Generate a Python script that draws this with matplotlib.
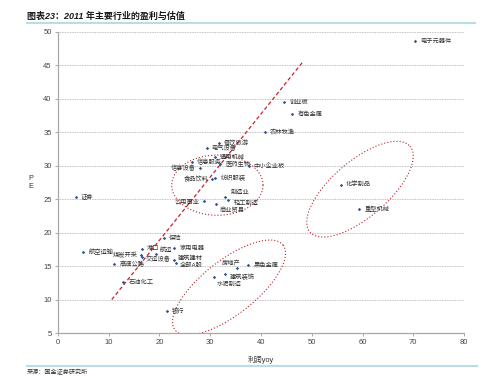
import numpy as np
import matplotlib.pyplot as plt

plt.rcParams['font.family'] = ['Liberation Sans', 'Noto Sans CJK SC', 'DejaVu Sans']

# 行业, 利润yoy, PE
industries = ['电子元器件', '创业板', '有色金属', '农林牧渔', '餐饮旅游', '电气设备',
              '通用机械', '医药生物', '中小企业板', '信息服务', '信息设备', '食品饮料',
              '纺织服装', '制造业', '轻工制造', '公用事业', '商业贸易', '证券',
              '保险', '航空运输', '港口', '家用电器', '煤炭开采', '交运设备', '航运',
              '建筑建材', '全部A股', '高速公路', '石油化工', '银行', '房地产',
              '黑色金属', '建筑装饰', '水泥制造', '化学制品', '重型机械']
profit_yoy = [70.3, 44.6, 46.2, 40.7, 31.7, 29.3,
              30.9, 31.9, 37.6, 26.4, 28.0, 30.4,
              31.0, 33.0, 33.4, 28.8, 31.1, 3.5,
              20.9, 5.0, 16.6, 22.9, 16.3, 16.6, 19.3,
              22.9, 23.2, 11.1, 12.9, 21.4, 35.3,
              37.5, 32.9, 30.8, 55.7, 59.4]
pe = [48.6, 39.5, 37.8, 35.0, 33.4, 32.6,
      31.3, 30.3, 30.0, 30.5, 29.7, 28.0,
      28.1, 25.3, 24.9, 24.7, 24.3, 25.3,
      19.2, 17.1, 17.6, 17.7, 16.7, 16.4, 16.8,
      15.9, 15.5, 15.3, 12.6, 8.3, 14.7,
      15.1, 13.8, 13.4, 27.2, 23.5]

# label placement (pixel offset, alignment); default is right of the marker
label_pos = {
    '信息设备': (-4, 0, 'right'), '食品饮料': (-4, 0, 'right'),
    '公用事业': (-4, 0, 'right'), '煤炭开采': (-3, 0, 'right'),
    '房地产': (3, 5, 'right'), '制造业': (5, 5, 'left'),
    '轻工制造': (6, -3, 'left'), '商业贸易': (4, -6, 'left'),
    '水泥制造': (2, -7, 'left'), '建筑装饰': (5, -3, 'left'),
    '全部A股': (4, -2, 'left'), '建筑建材': (4, 2, 'left'),
    '航运': (4, 4, 'left'), '交运设备': (4, -2, 'left'),
}

fig = plt.figure(figsize=(4.99, 3.84), dpi=100)
ax = fig.add_axes([0.1162, 0.1328, 0.8137, 0.7839])

ax.scatter(profit_yoy, pe, marker='D', s=3, color='#2F5597', lw=0, zorder=3)
for name, x, y in zip(industries, profit_yoy, pe):
    dx, dy, ha = label_pos.get(name, (5, 0, 'left'))
    ax.annotate(name, (x, y), xytext=(dx, dy), textcoords='offset pixels',
                ha=ha, va='center', fontsize=4.5, color='#333333', zorder=4)

# trend line
ax.plot([10.6, 48.1], [10.0, 45.4], color='#C8202A', lw=0.9,
        linestyle=(0, (3, 2)), zorder=2)

# circled groups
t = np.linspace(0, 2 * np.pi, 200)
ellipses = [((31.4, 27.1), (9.0, 0.0), (0.0, 4.5)),
            ((33.7, 11.8), (10.64, 6.35), (3.29, -3.17)),
            ((59.5, 26.5), (9.85, 6.43), (3.63, -3.15))]
for c, a, b in ellipses:
    ex = c[0] + a[0] * np.cos(t) + b[0] * np.sin(t)
    ey = c[1] + a[1] * np.cos(t) + b[1] * np.sin(t)
    ax.plot(ex, ey, color='#B5252B', lw=0.8, linestyle=(0, (1, 1.8)), zorder=2)

ax.set_xlim(0, 80)
ax.set_ylim(5, 50)
ax.set_xticks(range(0, 81, 10))
ax.set_yticks(range(5, 51, 5))
ax.yaxis.grid(True, color='#AAAAAA', linestyle=(0, (1, 1)), lw=0.6)
ax.set_axisbelow(True)
for s in ['top', 'right']:
    ax.spines[s].set_visible(False)
for s in ['left', 'bottom']:
    ax.spines[s].set_color('#A8A8A8')
    ax.spines[s].set_linewidth(0.9)
ax.tick_params(labelsize=5.5, colors='#A8A8A8', labelcolor='#444444',
               length=2.5, width=0.7, pad=2)

ax.set_xlabel('利润yoy', fontsize=5.3, color='#333333', labelpad=7)
ax.set_ylabel('P\nE', fontsize=5.3, color='#333333', rotation=0,
              va='center', labelpad=9, linespacing=1.2)

# page header / footer
fig.text(0.054, 0.958, '图表23：2011 年主要行业的盈利与估值', fontsize=6.5,
         fontweight='bold', style='italic', color='#1a1a1a', va='center')
fig.add_artist(plt.Line2D([0.054, 0.952], [0.94, 0.94], color='#B9DCE6', lw=1.5))
fig.add_artist(plt.Line2D([0.054, 0.955], [0.047, 0.047], color='#B9DCE6', lw=1.5))
fig.text(0.054, 0.03, '来源：国金证券研究所', fontsize=4.4, color='#333333', va='center')

fig.savefig('out.png', dpi=100)
